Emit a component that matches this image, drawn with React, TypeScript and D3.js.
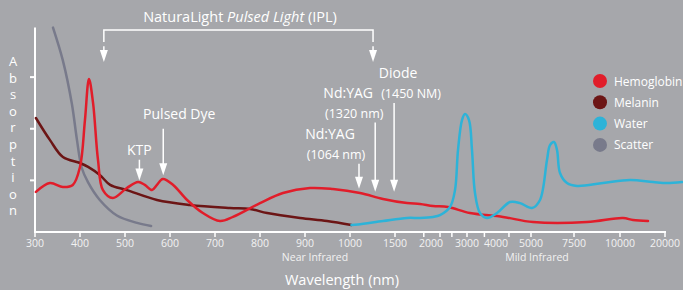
import React from "react";
import * as d3 from "d3";

// wavelength (nm) -> relative absorption (0..100)
const hemoglobin: [number, number][] = [
  [302, 19.4], [333, 23.7], [362, 21.8], [384, 22.8], [400, 31.5], [411, 54.2],
  [420, 74.1], [429, 62.5], [440, 34.9], [451, 20.3], [473, 16.5], [504, 21.3],
  [529, 24.2], [544, 22.8], [560, 20.3], [571, 22.8], [584, 25.7], [607, 22.8],
  [638, 15.5], [673, 9.2], [711, 5.3], [740, 7.3], [800, 14.0], [851, 18.9],
  [911, 21.3], [962, 20.8], [1111, 18.9], [1367, 16.0], [1667, 14.0], [1847, 13.6],
  [2056, 12.6], [2472, 12.1], [3103, 9.2], [4200, 7.3], [5116, 4.8], [8207, 4.8],
  [10667, 6.8], [12889, 5.8], [16222, 5.3],
];
const melanin: [number, number][] = [
  [302, 55.2], [333, 44.6], [362, 36.3], [400, 33.4], [418, 31.5], [444, 27.6],
  [467, 22.8], [504, 20.3], [571, 15.5], [644, 13.1], [733, 11.6], [778, 11.1],
  [816, 9.2], [889, 6.8], [949, 5.3], [1016, 3.4],
];
const water: [number, number][] = [
  [1016, 3.4], [1089, 3.6], [1367, 5.3], [1667, 6.8], [1847, 6.8], [2056, 7.3],
  [2250, 8.2], [2528, 12.1], [2667, 20.3], [2750, 39.7], [2861, 54.2], [2944, 57.1],
  [3069, 54.2], [3172, 39.7], [3276, 18.9], [3448, 9.2], [3690, 6.8], [4029, 9.2],
  [4400, 14.5], [4686, 14.0], [5058, 11.6], [5523, 15.5], [5930, 34.9], [6105, 42.1],
  [6337, 43.6], [6512, 39.7], [6686, 28.6], [7093, 23.7], [7663, 22.3], [9076, 23.7],
  [12222, 25.2], [17333, 24.2], [20444, 23.7], [23778, 24.2],
];
const scatter: [number, number][] = [
  [340, 99], [362, 83], [382, 62], [393, 45], [404, 31], [418, 24], [444, 15.5],
  [482, 8], [527, 4.4], [558, 2.9],
];

const series = [
  { name: "Scatter", color: "#787a8b", data: scatter },
  { name: "Melanin", color: "#6c1515", data: melanin },
  { name: "Hemoglobin", color: "#e11d2a", data: hemoglobin },
  { name: "Water", color: "#2db3d8", data: water },
];
const legendOrder = ["Hemoglobin", "Melanin", "Water", "Scatter"];

const xLabelValues = [300, 400, 500, 600, 700, 800, 900, 1000, 1500, 2000, 3000, 4000, 5000, 7500, 10000, 20000];
const xTickValues = [300, 400, 500, 600, 700, 800, 900, 1000, 1500, 1900, 2250, 2580, 3000, 3600, 4370, 5000, 7500, 10000, 20000];
const yTickValues = [25, 50, 75];

// lasers: wavelength the arrow points at, label lines, arrow top / tip in absorption units
const lasers = [
  { wl: 532, lines: ["KTP"], top: 35, tip: 25, dx: [0], gap: 5 },
  { wl: 585, lines: ["Pulsed Dye"], top: 50, tip: 27.5, dx: [16], gap: 10 },
  { wl: 1100, lines: ["Nd:YAG", "(1064 nm)"], top: 33, tip: 21, dx: [-29, -23], gap: 5 },
  { wl: 1280, lines: ["Nd:YAG", "(1320 nm)"], top: 53, tip: 19.5, dx: [-27, -21], gap: 5 },
  { wl: 1490, lines: ["Diode", "(1450 NM)"], top: 62.5, tip: 19.5, dx: [4, 17], gap: 5 },
];
const iplRange = [453, 1256];

export default function App() {
  const width = 683;
  const height = 290;
  const font = "'Open Sans', sans-serif";

  const x = d3
    .scaleLinear()
    .domain(xLabelValues)
    .range([35, 80, 125, 170, 215, 260, 305, 350, 395, 431, 467, 496, 531, 574, 620, 665]);
  const y = d3.scaleLinear().domain([0, 100]).range([232, 25.5]);

  const line = d3
    .line<[number, number]>()
    .x((d) => x(d[0]))
    .y((d) => y(d[1]))
    .curve(d3.curveCatmullRom.alpha(0.5));

  const arrow = (ax: number, y0: number, y1: number, key: string) => (
    <g key={key}>
      <line x1={ax} x2={ax} y1={y0} y2={y1 - 10} stroke="#fff" strokeWidth={1.5} />
      <path d={`M${ax - 4},${y1 - 12} L${ax + 4},${y1 - 12} L${ax},${y1} Z`} fill="#fff" />
    </g>
  );

  const laserLabel = (l: typeof lasers[number]) => {
    const ax = x(l.wl);
    const yt = y(l.top);
    const n = l.lines.length;
    return (
      <g key={l.wl}>
        {l.lines.map((t, i) => (
          <text
            key={t}
            x={ax + l.dx[i]}
            y={yt - l.gap - (n - 1 - i) * 20}
            textAnchor="middle"
            fontSize={i === 0 ? 14 : 12.5}
            fill="#fff"
          >
            {t}
          </text>
        ))}
        {arrow(ax, yt, y(l.tip), "a" + l.wl)}
      </g>
    );
  };

  const ipl0 = x(iplRange[0]);
  const ipl1 = x(iplRange[1]);

  return (
    <svg width={width} height={height} style={{ position: "absolute", left: 0, top: 0 }} fontFamily={font}>
      <rect width={width} height={height} fill="#a6a7ab" />

      {/* y axis */}
      <line x1={x(300)} x2={x(300)} y1={y(0)} y2={y(99)} stroke="#fff" strokeWidth={2} />
      {yTickValues.map((v) => (
        <line key={v} x1={x(300) - 5} x2={x(300)} y1={y(v)} y2={y(v)} stroke="#fff" strokeWidth={2} />
      ))}
      {"Absorption".split("").map((c, i) => (
        <text key={i} x={13} y={66 + i * 16.6} textAnchor="middle" fontSize={13} fill="#fff">
          {c}
        </text>
      ))}

      {/* x axis */}
      <line x1={x(300) - 1} x2={x(20000) + 1} y1={y(0)} y2={y(0)} stroke="#fff" strokeWidth={2} />
      {xTickValues.map((v) => (
        <line key={v} x1={x(v)} x2={x(v)} y1={y(0)} y2={y(0) + 5} stroke="#fff" strokeWidth={1.5} />
      ))}
      {xLabelValues.map((v) => (
        <text key={v} x={x(v)} y={247} textAnchor="middle" fontSize={10.5} fill="#f2f2f2">
          {v}
        </text>
      ))}
      <text x={315} y={261} textAnchor="middle" fontSize={10.5} fill="#f2f2f2">Near Infrared</text>
      <text x={537} y={261} textAnchor="middle" fontSize={10.5} fill="#f2f2f2">Mild Infrared</text>
      <text x={342} y={285} textAnchor="middle" fontSize={14.5} fill="#fff">Wavelength (nm)</text>

      {/* curves */}
      {series.map((s) => (
        <path key={s.name} d={line(s.data) ?? ""} fill="none" stroke={s.color} strokeWidth={2.5} strokeLinecap="round" />
      ))}

      {/* IPL bracket */}
      <text x={240} y={22} textAnchor="middle" fontSize={14.5} fill="#fff">
        NaturaLight <tspan fontStyle="italic">Pulsed Light</tspan> (IPL)
      </text>
      <path d={`M${ipl0},${y(92)} L${ipl0},30 L${ipl1},30 L${ipl1},${y(92)}`} fill="none" stroke="#fff" strokeWidth={1.5} />
      {arrow(ipl0, y(90), 62, "ipl0")}
      {arrow(ipl1, y(90), 62, "ipl1")}

      {lasers.map(laserLabel)}

      {/* legend */}
      {legendOrder.map((n, i) => {
        const s = series.find((d) => d.name === n)!;
        return (
          <g key={n} transform={`translate(600,${81 + i * 21.3})`}>
            <circle r={7} fill={s.color} />
            <text x={14} y={4.5} fontSize={12} fill="#fff">{n}</text>
          </g>
        );
      })}
    </svg>
  );
}
